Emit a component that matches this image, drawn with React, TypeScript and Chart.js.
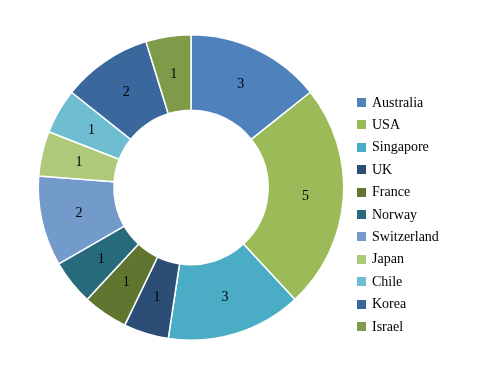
import React, { useEffect, useRef } from "react";
import { Chart, registerables } from "chart.js";

Chart.register(...registerables);

const categories = ["Australia", "USA", "Singapore", "UK", "France", "Norway", "Switzerland", "Japan", "Chile", "Korea", "Israel"];
const values = [3, 5, 3, 1, 1, 1, 2, 1, 1, 2, 1];
const colors = ["#4F81BD", "#9BBB59", "#4BACC6", "#2C4D75", "#5F7530", "#276A7C", "#729ACA", "#AFC97A", "#6FBDD1", "#3A679C", "#7F9A48"];

const FONT = "14px 'Liberation Serif', 'Times New Roman', serif";

const labelsAndLegend = {
  id: "labelsAndLegend",
  afterDraw(chart: any) {
    const ctx = chart.ctx;
    const meta = chart.getDatasetMeta(0);
    ctx.save();
    ctx.font = FONT;
    ctx.fillStyle = "#000";
    ctx.textAlign = "center";
    ctx.textBaseline = "middle";
    meta.data.forEach((arc: any, i: number) => {
      const p = arc.getCenterPoint();
      ctx.fillText(String(chart.data.datasets[0].data[i]), p.x, p.y);
    });
    // legend
    const lx = 357;
    const top = 102.5;
    const step = 22.4;
    ctx.textAlign = "left";
    chart.data.labels.forEach((lab: string, i: number) => {
      const y = top + i * step;
      ctx.fillStyle = chart.data.datasets[0].backgroundColor[i];
      ctx.fillRect(lx, Math.round(y - 4.5), 9, 9);
      ctx.fillStyle = "#000";
      ctx.fillText(lab, lx + 15, y + 0.5);
    });
    ctx.restore();
  },
};

export default function App() {
  const ref = useRef<HTMLCanvasElement>(null);
  useEffect(() => {
    if (!ref.current) return;
    const chart = new Chart(ref.current, {
      type: "doughnut",
      data: {
        labels: categories,
        datasets: [
          {
            data: values,
            backgroundColor: colors,
            borderColor: "#ffffff",
            borderWidth: 1.5,
          },
        ],
      },
      options: {
        responsive: false,
        animation: false,
        cutout: "50.5%",
        layout: { padding: { left: 37, right: 139, top: 34, bottom: 37 } },
        plugins: {
          legend: { display: false },
          tooltip: { enabled: false },
        },
      },
      plugins: [labelsAndLegend],
    });
    return () => chart.destroy();
  }, []);
  return (
    <div style={{ position: "absolute", left: 0, top: 0, width: 484, height: 378, background: "#fff" }}>
      <canvas ref={ref} width={484} height={378} />
    </div>
  );
}
